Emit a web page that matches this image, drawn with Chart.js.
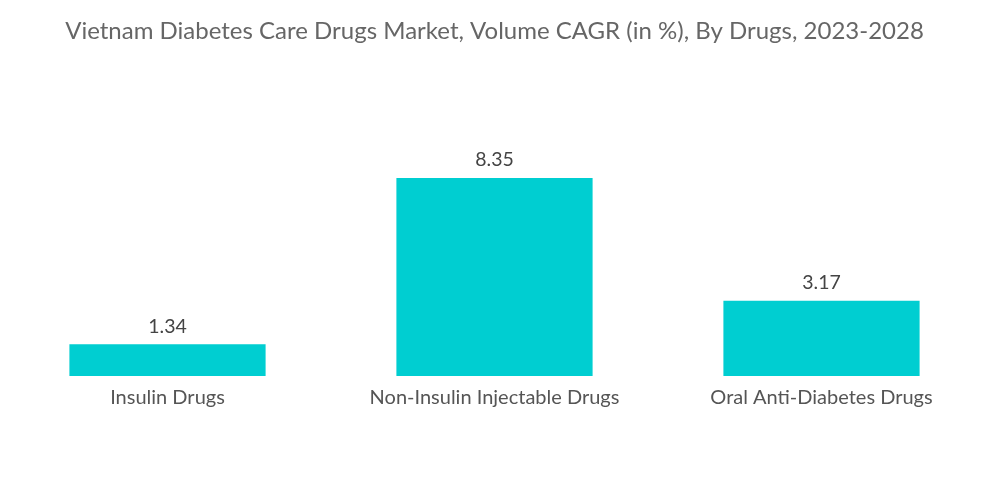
<!DOCTYPE html>
<html>
<head>
<meta charset="utf-8">
<script src="https://cdn.jsdelivr.net/npm/chart.js@4.4.1/dist/chart.umd.min.js"></script>
<style>
  html, body { margin: 0; padding: 0; background: #fff; }
  #wrap { width: 1000px; height: 504px; }
</style>
</head>
<body>
<div id="wrap"><canvas id="graphique"></canvas></div>
<script>
// données
const categories = ['Insulin Drugs', 'Non-Insulin Injectable Drugs', 'Oral Anti-Diabetes Drugs'];
const valeurs = [1.34, 8.35, 3.17];
const titre = 'Vietnam Diabetes Care Drugs Market, Volume CAGR (in %), By Drugs, 2023-2028';

// etiquettes au dessus des barres
const etiquettesPlugin = {
    id: 'etiquettes',
    afterDatasetsDraw(chart) {
        const ctx = chart.ctx;
        const meta = chart.getDatasetMeta(0);
        ctx.save();
        ctx.font = '19.5px Lato';
        ctx.fillStyle = '#444444';
        ctx.textAlign = 'center';
        ctx.textBaseline = 'bottom';
        meta.data.forEach((bar, i) => {
            ctx.fillText(valeurs[i].toFixed(2), bar.x, bar.y - 8);
        });
        ctx.restore();
    }
};

new Chart(document.getElementById('graphique'), {
    type: 'bar',
    data: {
        labels: categories,
        datasets: [{
            data: valeurs,
            backgroundColor: '#00CED1',
            borderWidth: 0,
            barPercentage: 0.6,
            categoryPercentage: 1
        }]
    },
    options: {
        responsive: true,
        maintainAspectRatio: false,
        animation: false,
        layout: { padding: { left: 4, right: 15, top: 0, bottom: 84 } },
        plugins: {
            legend: { display: false },
            tooltip: { enabled: false },
            title: {
                display: true,
                text: titre,
                color: '#666666',
                font: { family: 'Lato', size: 24, weight: 'normal' },
                padding: { top: 17, bottom: 93 }
            }
        },
        scales: {
            x: {
                grid: { display: false, drawTicks: false },
                border: { display: false },
                ticks: { color: '#555555', font: { family: 'Lato', size: 20 }, padding: 10 }
            },
            y: {
                display: false,
                min: 0,
                max: 10
            }
        }
    },
    plugins: [etiquettesPlugin]
});
</script>
</body>
</html>
